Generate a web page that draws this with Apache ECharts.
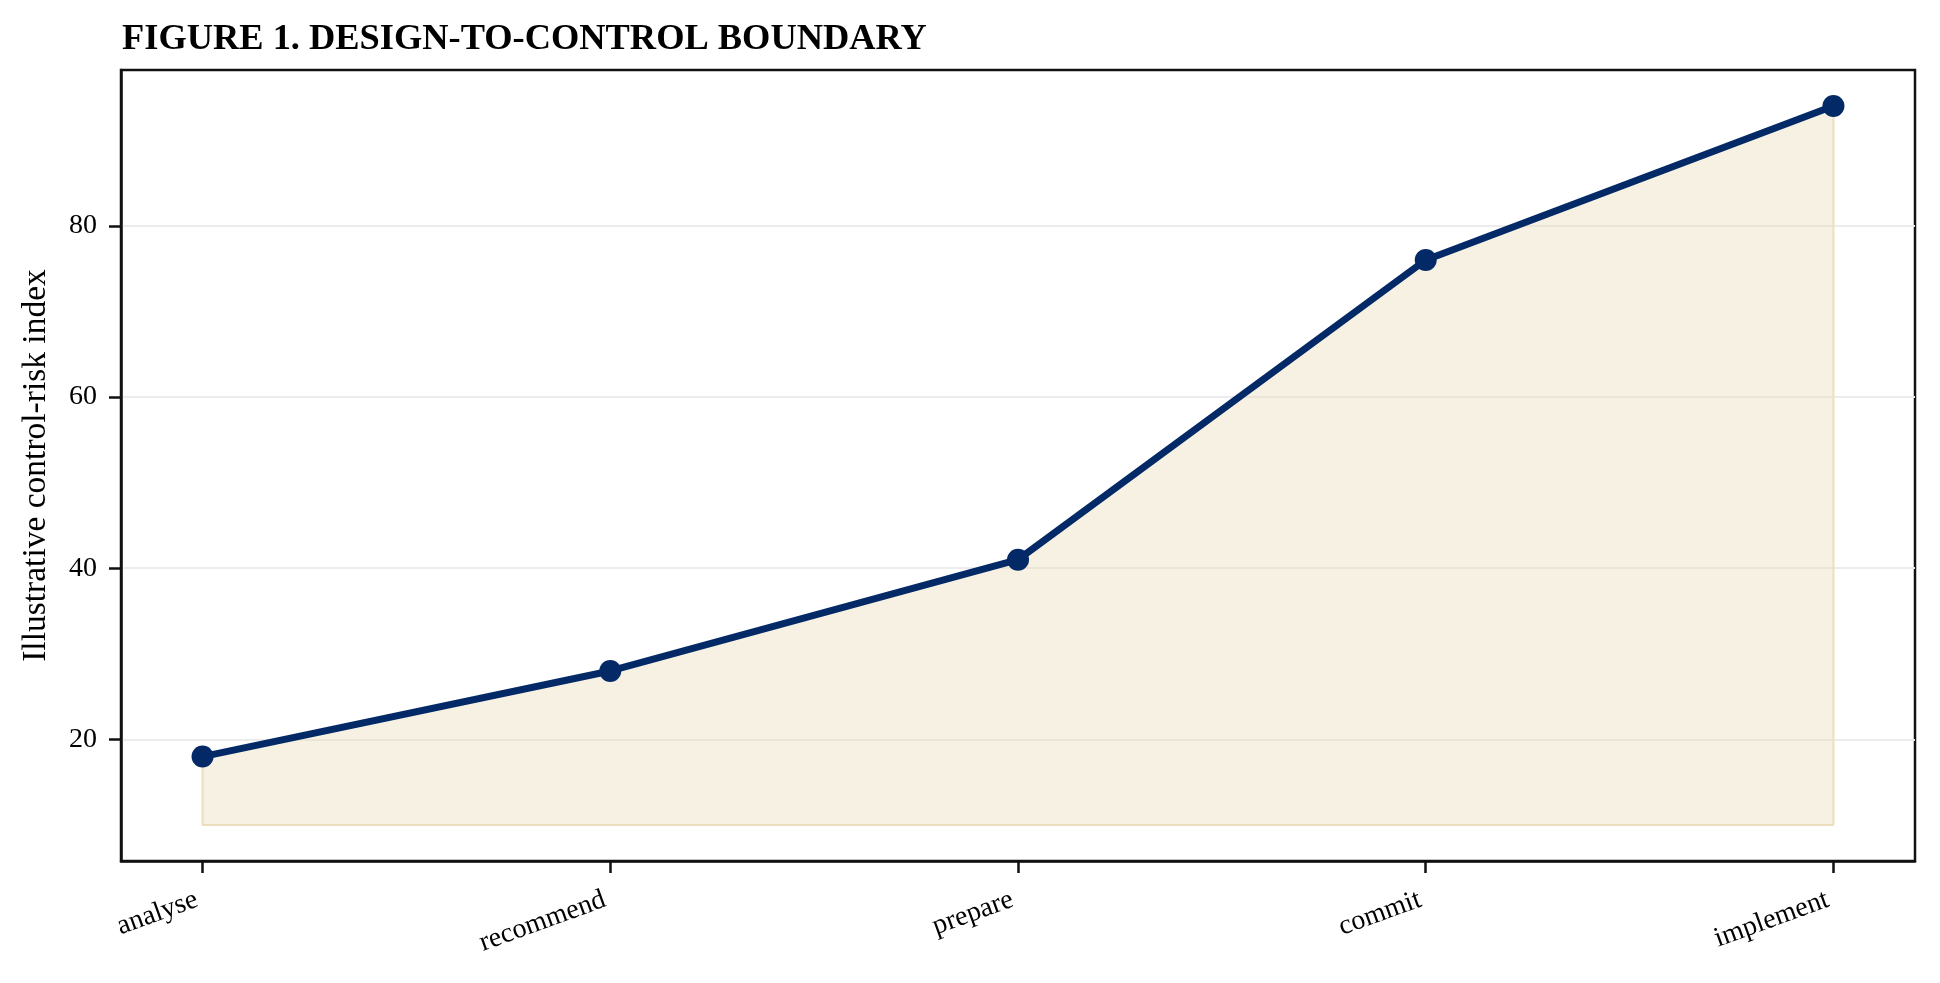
<!DOCTYPE html>
<html>
<head>
    <meta charset="utf-8">
    <title>Design-to-control boundary</title>
    <script src="https://cdn.jsdelivr.net/npm/echarts@6/dist/echarts.min.js"></script>
    <style>
        html, body { margin: 0; padding: 0; background: #fff; }
    </style>
</head>
<body>
    <div id="main" style="width: 1940px;height:983px;"></div>
    <script type="text/javascript">
        // stages along the x axis
        var stages = ['analyse', 'recommend', 'prepare', 'commit', 'implement'];
        // illustrative control-risk index per stage
        var riskIndex = [18, 28, 41, 76, 94];
        var yTicks = [20, 40, 60, 80];
        var fillBase = 10;

        var serif = "'Liberation Serif', 'Times New Roman', serif";
        var navy = '#032a66';

        var points = [];
        for (var i = 0; i < riskIndex.length; i++) {
            points.push([i, riskIndex[i]]);
        }
        var last = riskIndex.length - 1;
        // faint outline of the shaded band (left side, base, right side)
        var bandEdge = [[0, riskIndex[0]], [0, fillBase], [last, fillBase], [last, riskIndex[last]]];
        var xTicks = stages.map(function (s, i) { return i; });

        var myChart = echarts.init(document.getElementById('main'));
        var option = {
            backgroundColor: '#ffffff',
            animation: false,
            title: {
                text: 'FIGURE 1. DESIGN-TO-CONTROL BOUNDARY',
                left: 117,
                top: 17,
                textStyle: { fontFamily: serif, fontWeight: 'bold', fontSize: 36.4, color: '#000' }
            },
            grid: {
                left: 121, right: 25, top: 70, bottom: 122,
                show: true, borderColor: '#111', borderWidth: 2.5,
                containLabel: false, outerBoundsMode: 'none'
            },
            xAxis: {
                type: 'value', min: -0.2, max: 4.2,
                axisLine: { show: true, onZero: false, lineStyle: { color: '#111', width: 2.5 } },
                axisTick: { show: true, length: 12, customValues: xTicks, lineStyle: { color: '#111', width: 2.5 } },
                axisLabel: {
                    customValues: xTicks, rotate: 20, margin: 21,
                    align: 'right', verticalAlign: 'top', padding: [0, 11, 0, 0],
                    fontFamily: serif, fontSize: 28, color: '#000',
                    formatter: function (v) { return stages[Math.round(v)]; }
                },
                splitLine: { show: false }
            },
            yAxis: {
                type: 'value', min: 5.8, max: 98.2,
                name: 'Illustrative control-risk index',
                nameLocation: 'middle', nameRotate: 90, nameGap: 68,
                nameTextStyle: { fontFamily: serif, fontSize: 33.5, color: '#000' },
                axisLine: { show: true, onZero: false, lineStyle: { color: '#111', width: 2.5 } },
                axisTick: { show: true, length: 12, customValues: yTicks, lineStyle: { color: '#111', width: 2.5 } },
                axisLabel: { customValues: yTicks, margin: 24, fontFamily: serif, fontSize: 28, color: '#000' },
                splitLine: { show: true, lineStyle: { color: '#ececec', width: 2 } }
            },
            series: [{
                type: 'line',
                data: bandEdge,
                symbol: 'none',
                silent: true,
                lineStyle: { color: '#ece0c2', width: 2 },
                z: 1
            }, {
                type: 'line',
                data: points,
                symbol: 'circle',
                symbolSize: 22,
                itemStyle: { color: navy },
                lineStyle: { color: navy, width: 7 },
                areaStyle: { color: 'rgba(232, 216, 178, 0.5)', origin: fillBase },
                z: 3
            }]
        };
        myChart.setOption(option);
    </script>
</body>
</html>
